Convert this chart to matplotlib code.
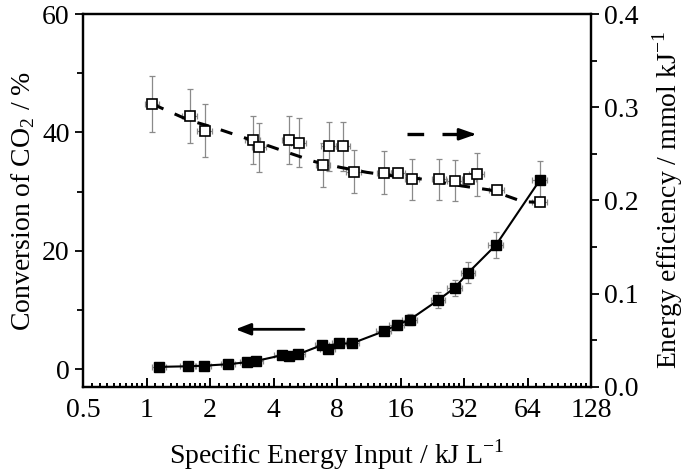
import numpy as np
import matplotlib
matplotlib.use('Agg')
import matplotlib.pyplot as plt
from matplotlib.ticker import FixedLocator, LogLocator, MultipleLocator, NullFormatter

plt.rcParams['font.family'] = ['Liberation Serif', 'DejaVu Serif']
plt.rcParams['mathtext.fontset'] = 'custom'
plt.rcParams['mathtext.rm'] = 'Liberation Serif'

# conversion of CO2 (filled squares, left axis)
conv_x = [1.15, 1.57, 1.87, 2.44, 3.01, 3.31, 4.37, 4.74, 5.21, 6.81, 7.25,
          8.2, 9.39, 13.3, 15.35, 17.75, 24.2, 29.0, 33.5, 45.4, 73.4]
conv_y = [0.4, 0.5, 0.6, 0.85, 1.2, 1.4, 2.35, 2.3, 2.5, 4.1, 3.4,
          4.35, 4.35, 6.4, 7.45, 8.4, 11.7, 13.8, 16.3, 21.0, 32.0]
conv_yerr = [0.1, 0.1, 0.1, 0.1, 0.2, 0.2, 0.3, 0.3, 0.3, 0.5, 0.4,
             0.5, 0.5, 0.7, 0.8, 0.9, 1.4, 1.35, 1.8, 2.25, 3.2]

# energy efficiency (open squares, right axis)
eff_x = [1.065, 1.61, 1.89, 3.19, 3.43, 4.75, 5.28, 6.89, 7.31, 8.57, 9.63,
         13.4, 15.6, 18.2, 24.4, 29.0, 33.9, 36.8, 45.7, 73.4]
eff_y = [0.3035, 0.291, 0.275, 0.265, 0.257, 0.265, 0.262, 0.238, 0.258, 0.258, 0.231,
         0.230, 0.230, 0.223, 0.223, 0.221, 0.223, 0.228, 0.211, 0.198]
eff_yerr = [0.030, 0.029, 0.028, 0.026, 0.026, 0.026, 0.026, 0.024, 0.026, 0.026, 0.023,
            0.023, 0.005, 0.022, 0.022, 0.022, 0.005, 0.023, 0.004, 0.004]

# dashed trend line for efficiency
fit_x = [1.065, 1.58, 2.07, 2.72, 3.58, 4.70, 6.29, 8.27, 11.07, 14.79, 18.34, 31.3, 42.5, 60.9, 73.4]
fit_y = [0.3035, 0.2863, 0.2785, 0.2695, 0.2606, 0.2513, 0.2416, 0.2356, 0.2302, 0.2263,
         0.2245, 0.2156, 0.2113, 0.1987, 0.198]

xticks = [0.5, 1, 2, 4, 8, 16, 32, 64, 128]
xticklabels = ['0.5', '1', '2', '4', '8', '16', '32', '64', '128']

conv_xerr = [0.08 * v for v in conv_x]
eff_xerr = [0.08 * v for v in eff_x]

fig = plt.figure(figsize=(6.85, 4.72), dpi=100)
ax = fig.add_subplot(111)
fig.subplots_adjust(left=83/685, right=591/685, top=1-14/472, bottom=1-387/472)
ax2 = ax.twinx()

ecol = '#8a8a8a'
ax.errorbar(conv_x, conv_y, yerr=conv_yerr, xerr=conv_xerr, fmt='none',
            ecolor=ecol, elinewidth=0.9, capsize=2.5, capthick=0.9, zorder=2)
ax.plot(conv_x, conv_y, '-s', color='black', lw=1.5, ms=7.8, mfc='black', zorder=3)

ax2.errorbar(eff_x, eff_y, yerr=eff_yerr, xerr=eff_xerr, fmt='none',
             ecolor=ecol, elinewidth=0.9, capsize=2.5, capthick=0.9, zorder=2)
ax2.plot(fit_x, fit_y, '--', color='black', lw=2.2, dashes=(4, 4), zorder=3)
ax2.plot(eff_x, eff_y, 's', color='black', ms=7.8, mfc='white', mew=1.2, zorder=4)

ax.set_xscale('log', base=2)
ax.set_xlim(0.5, 128)
ax.xaxis.set_major_locator(FixedLocator(xticks))
ax.set_xticklabels(xticklabels)
ax.xaxis.set_minor_locator(LogLocator(base=2, subs=np.arange(1.1, 2.0, 0.1), numticks=50))
ax.xaxis.set_minor_formatter(NullFormatter())

ax.set_ylim(-3, 60)
ax.yaxis.set_major_locator(FixedLocator([0, 20, 40, 60]))
ax.yaxis.set_minor_locator(FixedLocator([10, 30, 50]))
ax2.set_ylim(0, 0.4)
ax2.yaxis.set_major_locator(MultipleLocator(0.1))
ax2.yaxis.set_minor_locator(MultipleLocator(0.05))
ax2.set_yticklabels(['%.1f' % v for v in ax2.get_yticks()])

for a in (ax, ax2):
    for s in a.spines.values():
        s.set_linewidth(1.6)
ax.tick_params(axis='x', which='major', direction='in', length=6.5, width=1.4, labelsize=20, pad=8)
ax.tick_params(axis='x', which='minor', direction='in', length=3, width=1.4)
ax.tick_params(axis='y', which='major', direction='out', length=6, width=1.3, labelsize=20)
ax.tick_params(axis='y', which='minor', direction='out', length=4, width=1.3)
ax2.tick_params(axis='y', which='major', direction='out', length=6, width=1.3, labelsize=20)
ax2.tick_params(axis='y', which='minor', direction='out', length=4, width=1.3)

ax.set_xlabel('Specific Energy Input / kJ L$^{\\mathregular{-1}}$', fontsize=20, labelpad=10)
ax.set_ylabel('Conversion of CO$_{\\mathregular{2}}$ / %', fontsize=20, labelpad=4)
ax2.set_ylabel('Energy efficiency / mmol kJ$^{\\mathregular{-1}}$', fontsize=20, labelpad=8)

# arrows
ax.annotate('', xy=(0.2947, 0.1547), xytext=(0.4404, 0.1547), xycoords='axes fraction',
            arrowprops=dict(arrowstyle='-|>,head_length=0.9,head_width=0.35', color='black', lw=2))
ax.plot([0.6378, 0.7600], [0.6775, 0.6775], transform=ax.transAxes, color='black',
        lw=2.4, dashes=(5, 5.5), clip_on=False)
ax.annotate('', xy=(0.7795, 0.6775), xytext=(0.7550, 0.6775), xycoords='axes fraction',
            arrowprops=dict(arrowstyle='-|>,head_length=1.0,head_width=0.35', color='black', lw=2))

fig.savefig('out.png', dpi=100)
